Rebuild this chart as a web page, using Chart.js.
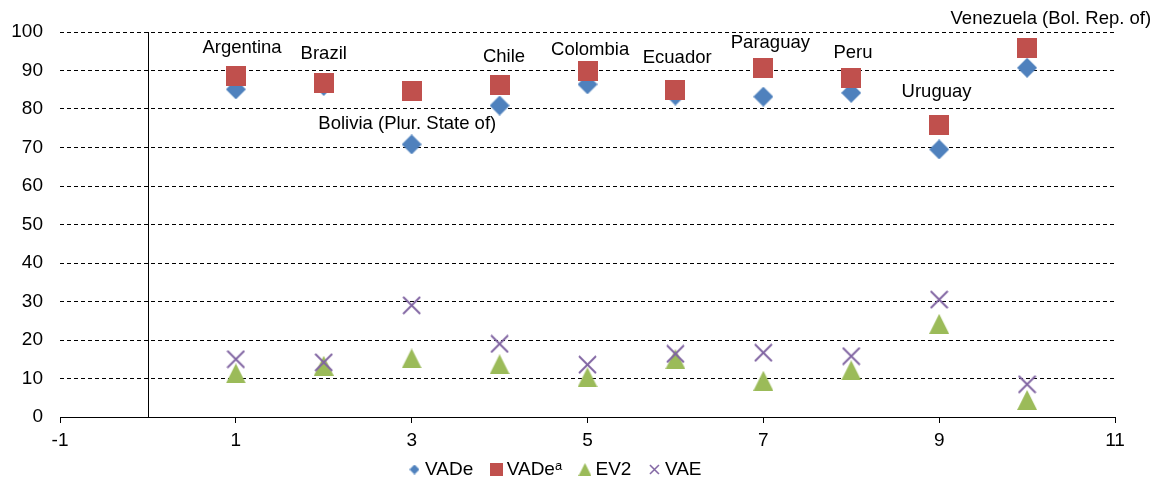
<!DOCTYPE html>
<html>
<head>
<meta charset="utf-8">
<script src="https://cdn.jsdelivr.net/npm/chart.js@4/dist/chart.umd.min.js"></script>
<style>
  html, body { margin: 0; padding: 0; background: #fff; }
  canvas { display: block; }
</style>
</head>
<body>
<canvas id="chart" width="1159" height="482"></canvas>
<script>
// country index on the x axis
const xValues = [1, 2, 3, 4, 5, 6, 7, 8, 9, 10]
const countries = ['Argentina', 'Brazil', 'Bolivia (Plur. State of)', 'Chile', 'Colombia',
  'Ecuador', 'Paraguay', 'Peru', 'Uruguay', 'Venezuela (Bol. Rep. of)']

const vade = [85.1, 86.0, 70.8, 80.9, 86.4, 83.5, 83.2, 84.2, 69.5, 90.7]
const vadeA = [88.6, 86.7, 84.8, 86.2, 89.9, 84.9, 90.7, 88.0, 75.8, 95.8]
const ev2 = [11.3, 13.3, 15.2, 13.7, 10.3, 15.0, 9.4, 12.1, 24.2, 4.4]
const vae = [15.0, 14.2, 29.0, 19.0, 13.6, 16.4, 16.7, 15.8, 30.5, 8.5]

// where the country names sit, in axis units
const labelX = [1.07, 2.0, 2.95, 4.05, 5.03, 6.02, 7.08, 8.02, 8.97, 10.27]
const labelY = [95.8, 94.4, 76.2, 93.6, 95.4, 93.2, 97.2, 94.5, 84.5, 103.5]

const yTicks = { min: 0, max: 100, step: 10 }
const xTicks = { min: -1, max: 11, step: 2 }

const BLUE = '#4f81bd'
const RED = '#c0504d'
const GREEN = '#9bbb59'
const PURPLE = '#8064a2'

Chart.defaults.font.family = "'Liberation Sans', Arial, sans-serif"
Chart.defaults.font.size = 19
Chart.defaults.color = '#000'

// Excel-like markers, centred on their box
function marker(shape, size, color) {
  const c = document.createElement('canvas')
  c.width = size
  c.height = size
  const g = c.getContext('2d')
  const h = size / 2
  g.fillStyle = color
  g.strokeStyle = color
  g.beginPath()
  if (shape === 'diamond') {
    g.moveTo(h, 0); g.lineTo(size, h); g.lineTo(h, size); g.lineTo(0, h)
    g.closePath(); g.fill()
  } else if (shape === 'square') {
    g.fillRect(0, 0, size, size)
  } else if (shape === 'triangle') {
    g.moveTo(h, 0); g.lineTo(size, size); g.lineTo(0, size)
    g.closePath(); g.fill()
  } else {
    g.lineWidth = Math.max(1.5, size / 10)
    g.moveTo(1, 1); g.lineTo(size - 1, size - 1)
    g.moveTo(size - 1, 1); g.lineTo(1, size - 1)
    g.stroke()
  }
  return c
}

const legendMarks = [
  marker('diamond', 10, BLUE),
  marker('square', 13, RED),
  marker('triangle', 13, GREEN),
  marker('cross', 11, PURPLE),
]

const pts = vals => xValues.map((x, i) => ({ x, y: vals[i] }))

const annotate = {
  id: 'annotate',
  afterLayout(chart) {
    // legend sits a little closer to the axis than its padding allows
    const lg = chart.legend
    lg.top -= 14
    lg.bottom = chart.height
    lg.height = lg.bottom - lg.top
  },
  beforeDatasetsDraw(chart) {
    const { ctx, chartArea, scales: { x } } = chart
    const px = Math.round(x.getPixelForValue(0)) + 0.5
    ctx.save()
    ctx.strokeStyle = '#000'
    ctx.lineWidth = 1
    ctx.beginPath()
    ctx.moveTo(px, chartArea.top)
    ctx.lineTo(px, chartArea.bottom)
    ctx.stroke()
    ctx.restore()
  },
  afterDatasetsDraw(chart) {
    const { ctx, scales: { x, y } } = chart
    ctx.save()
    ctx.fillStyle = '#000'
    ctx.font = "18.5px 'Liberation Sans', Arial, sans-serif"
    ctx.textAlign = 'center'
    ctx.textBaseline = 'middle'
    countries.forEach((name, i) => {
      ctx.fillText(name, x.getPixelForValue(labelX[i]), y.getPixelForValue(labelY[i]))
    })
    ctx.restore()
  },
}

new Chart(document.getElementById('chart'), {
  type: 'scatter',
  data: {
    datasets: [
      { label: 'VADe', data: pts(vade), pointStyle: marker('diamond', 20, BLUE), order: 4 },
      { label: 'VADe\u1d43', data: pts(vadeA), pointStyle: marker('square', 20, RED), order: 3 },
      { label: 'EV2', data: pts(ev2), pointStyle: marker('triangle', 20, GREEN), order: 2 },
      { label: 'VAE', data: pts(vae), pointStyle: marker('cross', 19, PURPLE), order: 1 },
    ],
  },
  options: {
    responsive: false,
    animation: false,
    layout: { padding: { left: 0, right: 44, top: 32, bottom: 0 } },
    scales: {
      x: {
        type: 'linear',
        min: xTicks.min,
        max: xTicks.max,
        ticks: { stepSize: xTicks.step, padding: 6, maxRotation: 0 },
        grid: { drawOnChartArea: false, drawTicks: true, tickLength: 6, color: '#000' },
        border: { display: true, color: '#000', width: 1 },
        afterFit: s => { s.height = 35 },
      },
      y: {
        min: yTicks.min,
        max: yTicks.max,
        ticks: { stepSize: yTicks.step, padding: 17 },
        grid: { color: '#000', drawTicks: false, lineWidth: 1 },
        border: { display: false, dash: [4, 3] },
        afterFit: s => { s.width = 60 },
      },
    },
    plugins: {
      tooltip: { enabled: false },
      legend: {
        position: 'bottom',
        maxHeight: 30,
        labels: {
          usePointStyle: true,
          boxWidth: 2,
          boxHeight: 2,
          padding: 22,
          color: '#000',
          sort: (a, b) => a.datasetIndex - b.datasetIndex,
          generateLabels: chart => Chart.defaults.plugins.legend.labels.generateLabels(chart)
            .map(item => ({ ...item, pointStyle: legendMarks[item.datasetIndex] })),
        },
      },
    },
  },
  plugins: [annotate],
})
</script>
</body>
</html>
